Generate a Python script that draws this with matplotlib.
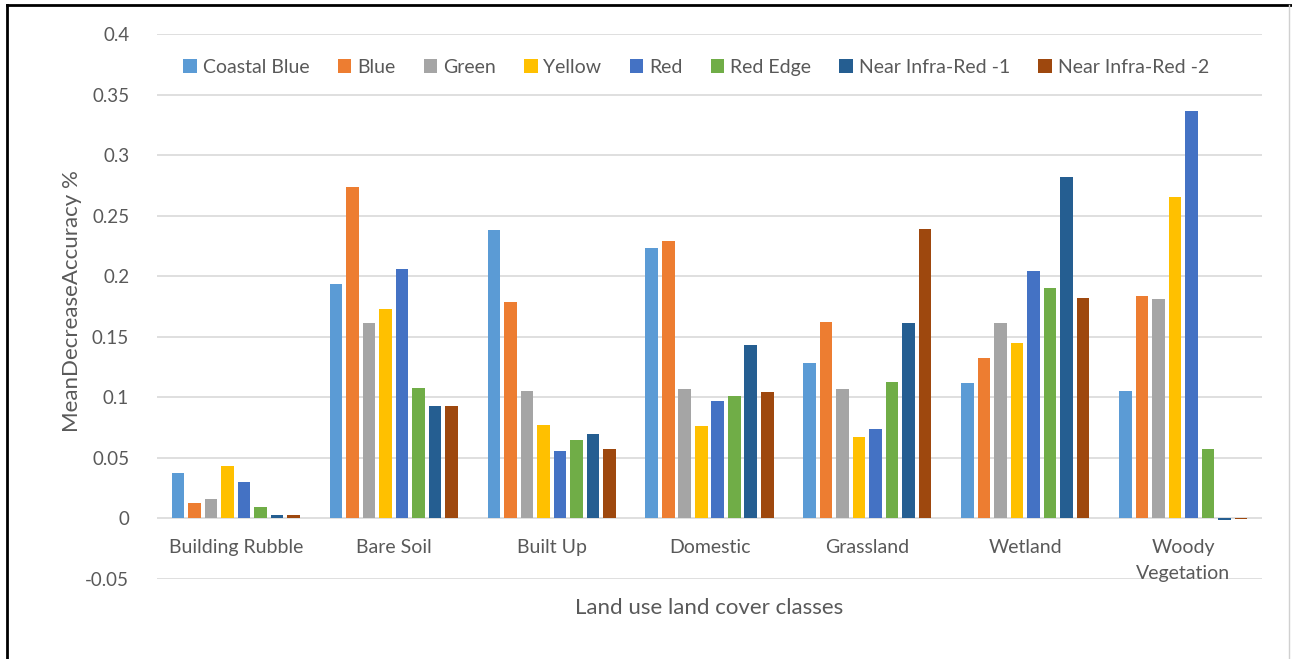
import matplotlib
matplotlib.use("Agg")
import matplotlib.pyplot as plt
from matplotlib import transforms
from matplotlib.lines import Line2D
import numpy as np

plt.rcParams['font.family'] = ['Lato', 'DejaVu Sans']

categories = ["Building Rubble", "Bare Soil", "Built Up", "Domestic",
              "Grassland", "Wetland", "Woody\nVegetation"]
bands = ["Coastal Blue", "Blue", "Green", "Yellow", "Red", "Red Edge",
         "Near Infra-Red -1", "Near Infra-Red -2"]

coastal_blue = [0.0375, 0.1936, 0.2378, 0.2234, 0.1278, 0.1116, 0.1050]
blue         = [0.0124, 0.2733, 0.1785, 0.2292, 0.1623, 0.1325, 0.1832]
green        = [0.0155, 0.1614, 0.1050, 0.1069, 0.1069, 0.1614, 0.1807]
yellow       = [0.0430, 0.1730, 0.0771, 0.0760, 0.0667, 0.1444, 0.2656]
red          = [0.0298, 0.2060, 0.0554, 0.0972, 0.0733, 0.2044, 0.3361]
red_edge     = [0.0088, 0.1077, 0.0642, 0.1011, 0.1127, 0.1901, 0.0573]
nir_1        = [0.0030, 0.0923, 0.0697, 0.1433, 0.1614, 0.2818, -0.0015]
nir_2        = [0.0030, 0.0923, 0.0573, 0.1039, 0.2386, 0.1815, -0.0010]

series = [coastal_blue, blue, green, yellow, red, red_edge, nir_1, nir_2]
colors = ["#5B9BD5", "#ED7D31", "#A5A5A5", "#FFC000", "#4472C4",
          "#70AD47", "#255E91", "#9E480E"]

yticks = [-0.05, 0, 0.05, 0.1, 0.15, 0.2, 0.25, 0.3, 0.35, 0.4]
ytick_labels = ["-0.05", "0", "0.05", "0.1", "0.15", "0.2", "0.25",
                "0.3", "0.35", "0.4"]

text_color = "#595959"
grid_color = "#D9D9D9"

fig = plt.figure(figsize=(12.92, 6.59), dpi=100)
ax = fig.add_axes([0.1215, 0.1219, 0.8553, 0.8265])

x = np.arange(len(categories))
slot = 0.1045
bar_w = 0.080
for i, (vals, col, name) in enumerate(zip(series, colors, bands)):
    offs = (i - (len(series) - 1) / 2) * slot
    ax.bar(x + offs, vals, width=bar_w, color=col, label=name, zorder=3)

ax.set_xlim(-0.5, len(categories) - 0.5)
ax.set_ylim(-0.05, 0.4)
ax.set_yticks(yticks)
ax.set_yticklabels(ytick_labels)
ax.tick_params(axis='y', length=0, pad=20, labelsize=13.5, labelcolor=text_color)
ax.set_xticks([])
for s in ax.spines.values():
    s.set_visible(False)
ax.yaxis.grid(True, color=grid_color, linewidth=1.2, zorder=0)

# Category names sit just below the zero line
off = transforms.offset_copy(ax.transData, fig=fig, x=0, y=-21, units='dots')
for xi, cat in zip(x, categories):
    ax.text(xi, 0, cat, transform=off, ha='center', va='top',
            fontsize=14, color=text_color, linespacing=1.6)

fig.text(0.0557, 0.543, "MeanDecreaseAccuracy %", rotation=90, ha='center',
         va='center', fontsize=16, color=text_color)
fig.text(0.549, 0.0774, "Land use land cover classes", ha='center', va='center',
         fontsize=16, color=text_color)

leg = ax.legend(loc='center', bbox_to_anchor=(0.488, 0.939), ncol=8, frameon=False,
                fontsize=14, handlelength=0.7, handleheight=0.7,
                handletextpad=0.3, columnspacing=1.45, labelcolor=text_color)

# Frame around the chart
fig.add_artist(Line2D([0.0055, 0.0055], [0, 0.992], transform=fig.transFigure,
                      color='black', linewidth=2))
fig.add_artist(Line2D([0.0055, 1.0], [0.992, 0.992], transform=fig.transFigure,
                      color='black', linewidth=2))
fig.add_artist(Line2D([0.998, 0.998], [0, 0.992], transform=fig.transFigure,
                      color='#D0D0D0', linewidth=1))

fig.savefig("out.png", dpi=100, facecolor='white')
